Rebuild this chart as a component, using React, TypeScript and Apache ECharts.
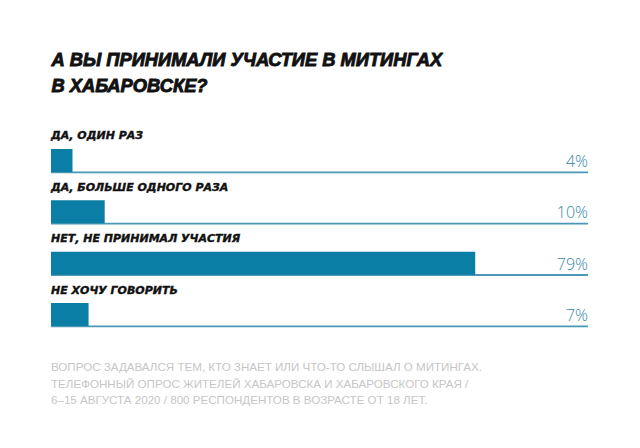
import React, { useEffect, useRef } from "react";
import * as echarts from "echarts";

const titleLines = ["А ВЫ ПРИНИМАЛИ УЧАСТИЕ В МИТИНГАХ", "В ХАБАРОВСКЕ?"];
const categories = [
  "ДА, ОДИН РАЗ",
  "ДА, БОЛЬШЕ ОДНОГО РАЗА",
  "НЕТ, НЕ ПРИНИМАЛ УЧАСТИЯ",
  "НЕ ХОЧУ ГОВОРИТЬ",
];
const values = [4, 10, 79, 7];
const footerLines = [
  "ВОПРОС ЗАДАВАЛСЯ ТЕМ, КТО ЗНАЕТ ИЛИ ЧТО-ТО СЛЫШАЛ О МИТИНГАХ.",
  "ТЕЛЕФОННЫЙ ОПРОС ЖИТЕЛЕЙ ХАБАРОВСКА И ХАБАРОВСКОГО КРАЯ /",
  "6–15 АВГУСТА 2020 / 800 РЕСПОНДЕНТОВ В ВОЗРАСТЕ ОТ 18 ЛЕТ.",
];

const BAR = "#0a7ea4";
const LINE = "#4a98b5";
const PCT = "#3587a7";

export default function App() {
  const ref = useRef<HTMLDivElement>(null);
  useEffect(() => {
    if (!ref.current) return;
    const chart = echarts.init(ref.current, undefined, { renderer: "svg" });
    chart.setOption({
      animation: false,
      backgroundColor: "#ffffff",
      grid: { left: 51, right: 52, top: 134.8, bottom: 107.8, containLabel: false },
      xAxis: { type: "value", min: 0, max: 100, show: false },
      yAxis: { type: "category", data: categories, inverse: true, show: false },
      graphic: [
        ...titleLines.map((t, i) => ({
          type: "text",
          left: 51,
          top: 50 + i * 26,
          style: {
            text: t,
            font: "italic bold 18.3px 'Liberation Sans', Arial, sans-serif",
            fill: "#111111",
            stroke: "#111111",
            lineWidth: 0.9,
          },
        })),
        ...footerLines.map((t, i) => ({
          type: "text",
          left: 51,
          top: 360.5 + i * 16.5,
          style: {
            text: t,
            font: "11.6px 'Liberation Sans', Arial, sans-serif",
            fill: "#c6c6c6",
          },
        })),
      ],
      series: [
        {
          type: "custom",
          z: 1,
          data: values.map((v, i) => [v, i]),
          encode: { x: 0, y: 1 },
          renderItem: (params: any, api: any) => {
            const idx = api.value(1);
            const val = api.value(0);
            const s = api.coord([0, idx]);
            const e = api.coord([100, idx]);
            return {
              type: "group",
              children: [
                {
                  type: "line",
                  shape: { x1: s[0], y1: s[1] + 11.8, x2: e[0], y2: s[1] + 11.8 },
                  style: { stroke: LINE, lineWidth: 1.8 },
                },
                {
                  type: "text",
                  style: {
                    text: val + "%",
                    x: e[0],
                    y: s[1] + 0.5,
                    align: "right",
                    verticalAlign: "middle",
                    font: "300 16px 'Open Sans', 'Liberation Sans', sans-serif",
                    fill: PCT,
                  },
                },
                {
                  type: "text",
                  style: {
                    text: categories[idx],
                    x: s[0],
                    y: s[1] - 24.5,
                    align: "left",
                    verticalAlign: "middle",
                    font: "italic bold 11px 'DejaVu Sans', sans-serif",
                    fill: "#111111",
                    stroke: "#111111",
                    lineWidth: 0.4,
                  },
                },
              ],
            };
          },
        },
        {
          type: "bar",
          z: 2,
          data: values,
          barWidth: 23,
          itemStyle: { color: BAR },
        },
      ],
    });
    return () => chart.dispose();
  }, []);
  return <div ref={ref} style={{ width: 640, height: 448, margin: -8 }} />;
}
